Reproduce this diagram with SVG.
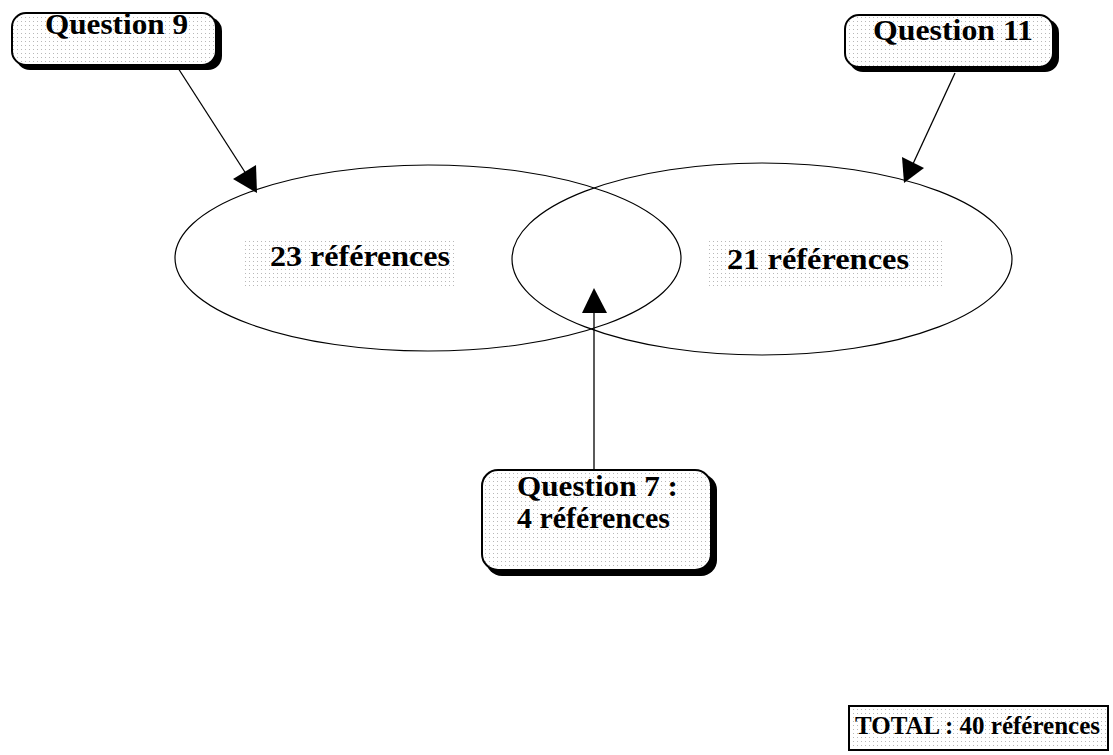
<svg xmlns="http://www.w3.org/2000/svg" width="1113" height="755" viewBox="0 0 1113 755">
<defs>
<pattern id="dots" width="4" height="4" patternUnits="userSpaceOnUse">
<rect width="4" height="4" fill="#fff"/>
<rect x="1" y="1" width="1" height="1" fill="#b8b8b8"/>
</pattern>
<style>
.t{font-family:"Liberation Serif","Times New Roman",serif;font-weight:bold;font-size:30px;fill:#000}
.tt{font-family:"Liberation Serif","Times New Roman",serif;font-weight:bold;font-size:25px;fill:#000}
.box{fill:url(#dots);stroke:#000;stroke-width:2}
.sh{fill:#000}
.ell{fill:none;stroke:#000;stroke-width:1.2}
.ln{stroke:#000;stroke-width:1.3;fill:none}
.hd{fill:#000}
</style>
</defs>
<rect width="1113" height="755" fill="#fff"/>
<g id="ellipse-left"><ellipse class="ell" cx="428" cy="258" rx="253" ry="93"/></g>
<g id="ellipse-right"><ellipse class="ell" cx="762" cy="259" rx="250" ry="96"/></g>
<g id="label-23">
<rect x="245" y="238" width="212" height="48" fill="url(#dots)"/>
<text class="t" x="270" y="266" textLength="180" lengthAdjust="spacingAndGlyphs">23 références</text>
</g>
<g id="label-21">
<rect x="708" y="240" width="234" height="48" fill="url(#dots)"/>
<text class="t" x="727" y="269" textLength="182" lengthAdjust="spacingAndGlyphs">21 références</text>
</g>
<g id="connectors">
<line class="ln" x1="178" y1="68" x2="250" y2="180"/>
<path class="hd" d="M257,193 L233,179 L256,165 Z"/>
<line class="ln" x1="955" y1="73" x2="912" y2="166"/>
<path class="hd" d="M904,183 L902,157 L924,168 Z"/>
<line class="ln" x1="594" y1="470" x2="594" y2="300"/>
<path class="hd" d="M594,288 L582,313 L607,313 Z"/>
</g>
<g id="q9">
<rect class="sh" x="16" y="17" width="206" height="53" rx="14"/>
<rect class="box" x="12" y="13" width="204" height="52" rx="14"/>
<text class="t" x="45" y="34" textLength="143" lengthAdjust="spacingAndGlyphs">Question 9</text>
</g>
<g id="q11">
<rect class="sh" x="849" y="19" width="210" height="53" rx="14"/>
<rect class="box" x="845" y="15" width="208" height="52" rx="14"/>
<text class="t" x="873" y="40" textLength="160" lengthAdjust="spacingAndGlyphs">Question 11</text>
</g>
<g id="q7">
<rect class="sh" x="486" y="474" width="231" height="102" rx="16"/>
<rect class="box" x="482" y="470" width="229" height="100" rx="16"/>
<text class="t" x="517" y="496" textLength="161" lengthAdjust="spacingAndGlyphs">Question 7 :</text>
<text class="t" x="517" y="528" textLength="153" lengthAdjust="spacingAndGlyphs">4 références</text>
</g>
<g id="total">
<rect class="box" x="849" y="706" width="259" height="44"/>
<text class="tt" x="855" y="734" textLength="245" lengthAdjust="spacingAndGlyphs">TOTAL : 40 références</text>
</g>
</svg>
